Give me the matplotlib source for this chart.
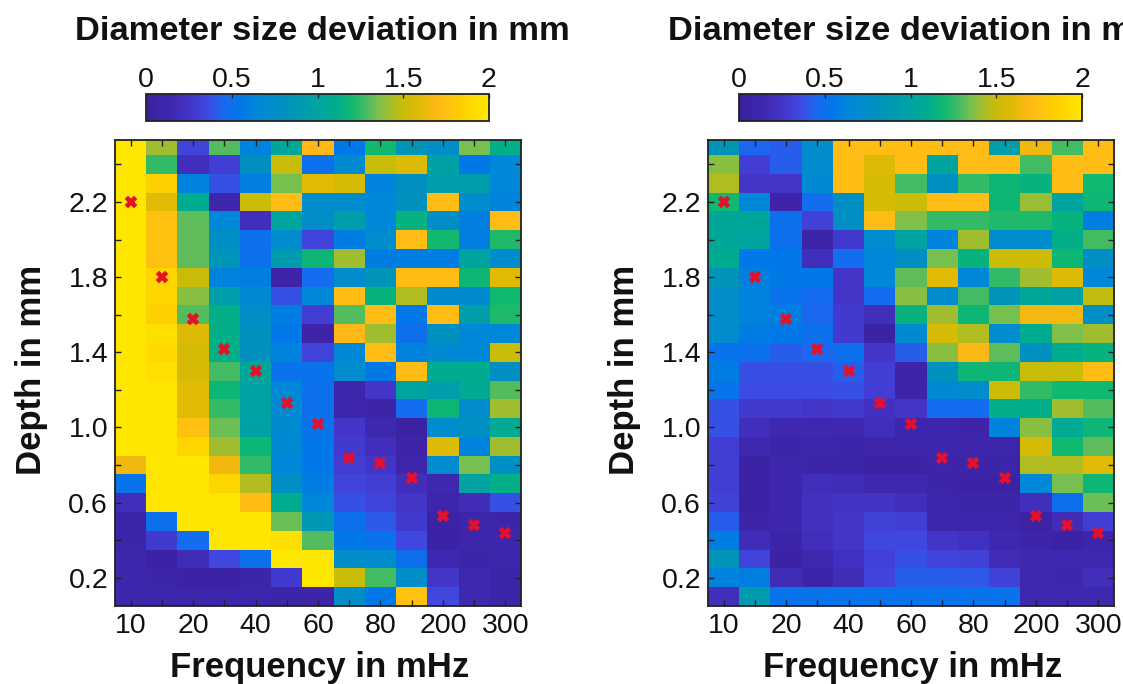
import numpy as np
import matplotlib
matplotlib.use("Agg")
import matplotlib.pyplot as plt
from matplotlib.colors import LinearSegmentedColormap

plt.rcParams['font.family'] = ['Liberation Sans', 'DejaVu Sans']

freqs = [10,15,20,30,40,50,60,70,80,90,200,250,300]
depths = [2.5,2.4,2.3,2.2,2.1,2.0,1.9,1.8,1.7,1.6,1.5,1.4,1.3,1.2,1.1,1.0,0.9,0.8,0.7,0.6,0.5,0.4,0.3,0.2,0.1]
freq_labels = ['10','','20','','40','','60','','80','','200','','300']
depth_ticks = [0.2,0.4,0.6,0.8,1.0,1.2,1.4,1.6,1.8,2.0,2.2,2.4]
depth_labels = ['0.2','','0.6','','1.0','','1.4','','1.8','','2.2','']
focus_depth = [2.2,1.8,1.58,1.42,1.3,1.13,1.02,0.84,0.81,0.73,0.53,0.48,0.44]

left_vals = [
 [2,1.42,.33,1.3,.62,1.05,1.7,.55,1.2,.85,.75,1.35,1.12],
 [2,1.25,.2,.3,.8,1.5,.5,.7,1.5,1.58,.98,.55,.65],
 [2,1.85,.62,.38,.6,1.35,1.6,1.55,.62,.8,.95,.95,.65],
 [2,1.6,1.1,.12,1.52,1.72,.72,.72,.65,.82,1.72,.72,.62],
 [2,1.75,1.32,.65,.2,1.02,.75,.95,.65,1.15,.75,.6,1.72],
 [2,1.75,1.32,.78,.5,.72,.33,.58,.72,1.72,1.2,.6,1.22],
 [2,1.75,1.32,.85,.5,.9,1.18,1.42,.58,.58,.58,1.02,.72],
 [2,1.88,1.5,.62,.6,.08,.48,.72,.85,1.72,1.72,1.18,1.6],
 [2,1.88,1.38,.95,.68,.38,.65,1.72,1.15,1.45,.7,.7,1.2],
 [2,1.85,1.3,1.12,.75,.58,.3,1.3,1.72,.55,1.72,.95,1.22],
 [2,1.95,1.58,1.12,.82,.55,.08,1.7,1.42,.5,.8,.65,.65],
 [2,1.9,1.55,1.12,.82,.62,.33,.65,1.72,.62,.68,.65,1.5],
 [2,1.95,1.55,1.28,1.05,.52,.52,.72,.55,1.72,1.1,1.1,.78],
 [2,2,1.6,1.18,1.0,.65,.5,.12,.25,1.02,.95,1.08,1.3],
 [2,2,1.6,1.25,1.0,.68,.5,.12,.08,.48,1.18,.72,1.42],
 [2,2,1.75,1.33,.98,.7,.52,.25,.15,.05,.72,.78,1.08],
 [2,2,1.88,1.42,1.18,.68,.55,.28,.2,.08,1.58,.62,1.42],
 [1.65,2,2,1.65,1.25,.65,.55,.3,.25,.12,.72,1.35,.78],
 [.52,2,2,1.88,1.45,.78,.58,.33,.3,.2,.15,1.0,1.12],
 [.2,2,2,2,1.72,1.1,.65,.38,.33,.25,.12,.18,.38],
 [.1,.5,2,2,2,1.33,.87,.5,.4,.28,.07,.12,.1],
 [.1,.28,.48,2,2,1.95,1.3,.55,.52,.35,.07,.12,.12],
 [.12,.07,.18,.35,.5,2,2,.75,.72,.5,.15,.1,.12],
 [.12,.1,.07,.07,.1,.28,2,1.5,1.28,.75,.25,.15,.1],
 [.12,.12,.12,.12,.12,.1,.08,.75,.55,1.75,.35,.15,.1],
]

right_vals = [
 [.85,.45,.42,.72,1.72,1.72,1.72,1.72,1.72,.95,1.65,1.28,1.72],
 [1.38,.3,.42,.72,1.72,1.58,1.72,1.02,1.72,1.72,1.28,1.72,1.72],
 [1.45,.25,.25,.68,1.72,1.55,1.28,.8,1.25,1.18,1.15,1.72,1.2],
 [1.2,.65,.08,.48,.78,1.55,1.52,1.72,1.72,1.18,1.4,1.02,1.18],
 [1.05,1.05,.5,.32,.78,1.72,1.36,1.25,1.25,1.22,1.22,1.15,.6],
 [1.05,1.02,.5,.1,.28,.72,1.0,.62,1.42,.72,.72,1.12,1.28],
 [1.1,.55,.55,.2,.48,.65,.78,1.35,1.15,1.52,1.52,1.18,.78],
 [.85,.6,.55,.55,.25,.65,1.32,1.6,.65,1.25,1.42,1.58,.65],
 [.75,.62,.52,.48,.25,.48,1.38,.72,1.28,.85,1.05,.98,1.48],
 [.75,.62,.6,.45,.28,.2,1.15,1.42,1.18,1.35,1.66,1.66,.78],
 [.72,.58,.55,.5,.28,.07,.7,1.55,1.45,.72,1.1,1.36,1.42],
 [.52,.5,.42,.45,.5,.25,.42,1.38,1.68,1.32,.8,1.1,1.15],
 [.58,.38,.38,.38,.42,.3,.08,.82,1.18,1.18,1.5,1.5,1.72],
 [.52,.36,.36,.36,.38,.3,.08,.68,.72,1.52,1.25,1.2,1.2],
 [.38,.28,.28,.25,.28,.22,.25,.48,.48,1.12,1.12,1.42,1.3],
 [.38,.2,.15,.15,.15,.2,.12,.12,.08,.62,1.38,1.08,1.18],
 [.3,.15,.1,.12,.1,.12,.12,.12,.12,.12,1.55,1.2,1.32],
 [.3,.07,.12,.1,.1,.07,.07,.1,.1,.1,1.45,1.45,1.6],
 [.3,.07,.12,.2,.18,.15,.15,.1,.07,.07,.65,1.35,1.18],
 [.32,.07,.14,.22,.24,.24,.2,.12,.1,.1,.2,.5,1.33],
 [.42,.08,.14,.22,.25,.32,.3,.12,.12,.12,.07,.18,.3],
 [.58,.18,.1,.2,.25,.35,.35,.25,.22,.15,.1,.07,.12],
 [.85,.33,.07,.15,.22,.32,.38,.33,.32,.18,.15,.15,.15],
 [.62,.6,.18,.08,.18,.33,.42,.42,.4,.32,.15,.14,.2],
 [.2,.9,.52,.52,.52,.52,.52,.52,.52,.52,.15,.15,.15],
]

# colour ramp
cmap_points = [(0,'#3A209F'),(.15,'#3F28B0'),(.25,'#4335C8'),(.35,'#4048E0'),(.45,'#1A68F0'),
               (.55,'#0078E8'),(.65,'#0088D8'),(.8,'#0090C0'),(.95,'#009EAA'),(1.1,'#00AC90'),
               (1.2,'#10B870'),(1.3,'#50BC60'),(1.35,'#78C050'),(1.45,'#B0BC20'),(1.5,'#C8BC08'),
               (1.6,'#E0BA05'),(1.7,'#FFB818'),(1.85,'#FFD000'),(2,'#FFE600')]
cm = LinearSegmentedColormap.from_list('dev', [(v/2,c) for v,c in cmap_points], N=256)

W,H = 1123,684
fig = plt.figure(figsize=(W/100,H/100),dpi=100)
dark = '#222222'

def rect(x0,y0,x1,y1):
    return [x0/W,1-y1/H,(x1-x0)/W,(y1-y0)/H]

def panel(x0,vals):
    ax = fig.add_axes(rect(x0,140,x0+406,606))
    pos = np.arange(len(freqs))
    mesh = ax.pcolormesh(pos,depths,np.array(vals),cmap=cm,vmin=0,vmax=2,shading='nearest')
    ax.plot(pos,focus_depth,ls='none',marker='X',ms=9,mfc='#E5102A',mec='#E5102A',mew=0.3)
    ax.set_xticks(pos)
    ax.set_xticklabels(freq_labels)
    ax.set_yticks(depth_ticks)
    ax.set_yticklabels(depth_labels)
    ax.set_ylim(0.05,2.53)
    ax.tick_params(direction='in',top=True,right=True,length=4,width=1,color=dark,labelsize=20.5,pad=5,labelcolor='#111111')
    for s in ax.spines.values():
        s.set_linewidth(1.3)
        s.set_color(dark)
    ax.set_xlabel('Frequency in mHz',fontsize=25,fontweight='bold',va='center',color='#111111')
    ax.set_ylabel('Depth in mm',fontsize=25,fontweight='bold',va='center',color='#111111')
    ax.xaxis.set_label_coords(0.505,-61/466)
    ax.yaxis.set_label_coords(-83/406,0.507)

    cax = fig.add_axes(rect(x0+31,94,x0+374,121))
    cb = fig.colorbar(mesh,cax=cax,orientation='horizontal',ticks=[0,.5,1,1.5,2])
    cb.ax.set_xticklabels(['0','0.5','1','1.5','2'])
    cb.ax.xaxis.set_ticks_position('top')
    cb.ax.tick_params(direction='in',length=3,width=1,color=dark,labelsize=20.5,pad=1,labelcolor='#111111')
    cb.outline.set_linewidth(1.3)
    cb.outline.set_edgecolor(dark)
    fig.text((x0+207.5)/W,1-31/H,'Diameter size deviation in mm',fontsize=24.8,fontweight='bold',ha='center',va='center',color='#111111')

panel(115,left_vals)
panel(708,right_vals)

fig.savefig('out.png',dpi=100)
